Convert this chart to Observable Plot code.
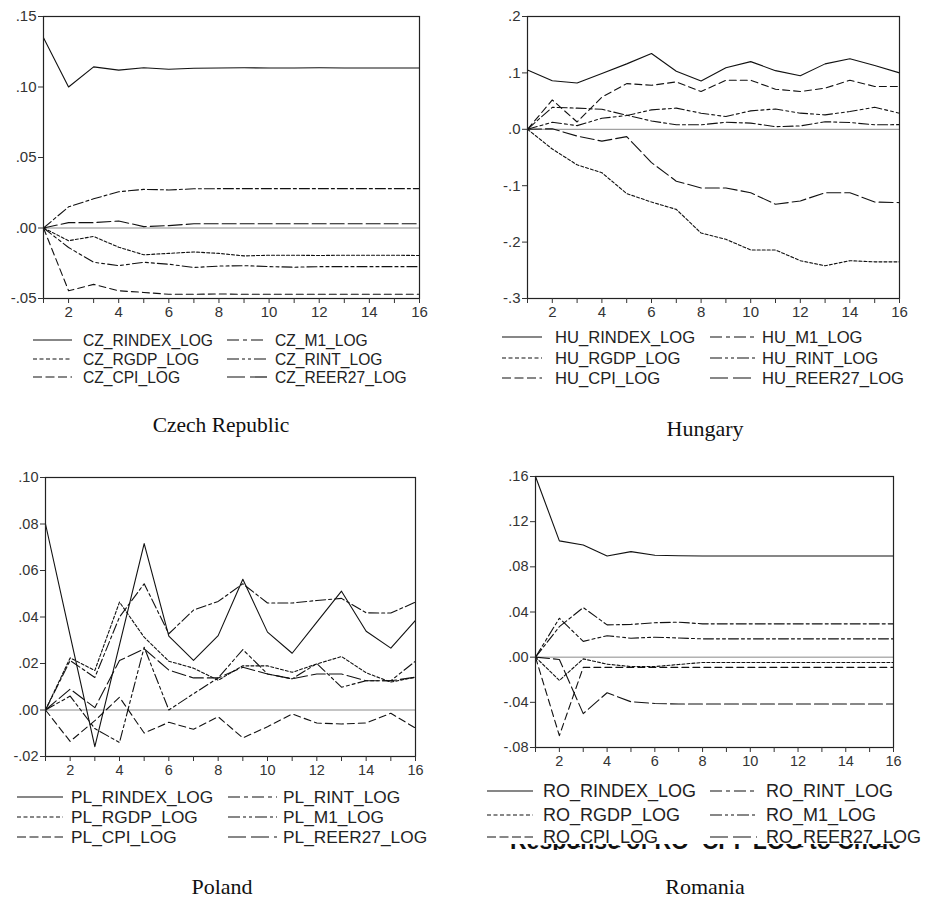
<!DOCTYPE html>
<html><head><meta charset="utf-8">
<script src="https://cdn.jsdelivr.net/npm/d3@7"></script>
<script src="https://cdn.jsdelivr.net/npm/@observablehq/plot@0.6"></script>
<style>
body{margin:0;background:#fff}
#root{position:relative;width:925px;height:898px;overflow:hidden;background:#fff}
.panel{position:absolute}
#overlay{position:absolute;left:0;top:0}
</style>
</head><body><div id="root"></div>
<script>
// ---------- data ----------
const periods = [1,2,3,4,5,6,7,8,9,10,11,12,13,14,15,16];
const xLabels = [2,4,6,8,10,12,14,16];

const czYTicks = [-0.05, 0, 0.05, 0.10, 0.15];
const huYTicks = [-0.3, -0.2, -0.1, 0, 0.1, 0.2];
const plYTicks = [-0.02, 0, 0.02, 0.04, 0.06, 0.08, 0.10];
const roYTicks = [-0.08, -0.04, 0, 0.04, 0.08, 0.12, 0.16];

const czNames = ["CZ_RINDEX_LOG","CZ_RGDP_LOG","CZ_CPI_LOG","CZ_M1_LOG","CZ_RINT_LOG","CZ_REER27_LOG"];
const huNames = ["HU_RINDEX_LOG","HU_RGDP_LOG","HU_CPI_LOG","HU_M1_LOG","HU_RINT_LOG","HU_REER27_LOG"];
const plNames = ["PL_RINDEX_LOG","PL_RGDP_LOG","PL_CPI_LOG","PL_RINT_LOG","PL_M1_LOG","PL_REER27_LOG"];
const roNames = ["RO_RINDEX_LOG","RO_RGDP_LOG","RO_CPI_LOG","RO_RINT_LOG","RO_M1_LOG","RO_REER27_LOG"];
const countries = ["Czech Republic","Hungary","Poland","Romania"];

// Czech Republic
const czRindex = [0.135,0.100,0.1143,0.112,0.1136,0.1126,0.1133,0.1135,0.1136,0.1135,0.1135,0.1136,0.1135,0.1135,0.1135,0.1135];
const czRgdp   = [0,-0.009,-0.006,-0.0136,-0.019,-0.018,-0.017,-0.018,-0.0198,-0.0193,-0.0193,-0.0195,-0.0193,-0.0193,-0.0193,-0.0195];
const czCpi    = [0,-0.0445,-0.040,-0.0445,-0.0457,-0.047,-0.047,-0.0468,-0.047,-0.047,-0.047,-0.047,-0.047,-0.047,-0.047,-0.047];
const czM1     = [0,0.015,0.0207,0.0257,0.0274,0.027,0.0278,0.0279,0.0279,0.0279,0.0279,0.0279,0.0279,0.0279,0.0279,0.0279];
const czRint   = [0,-0.0138,-0.0243,-0.0267,-0.0243,-0.0257,-0.028,-0.027,-0.0267,-0.0274,-0.0278,-0.0274,-0.0274,-0.0274,-0.0274,-0.0274];
const czReer   = [0,0.0038,0.0038,0.005,0.001,0.0017,0.003,0.003,0.003,0.003,0.003,0.003,0.003,0.003,0.003,0.003];

// Hungary
const huRindex = [0.105,0.086,0.082,0.099,0.116,0.1345,0.103,0.0857,0.109,0.12,0.104,0.095,0.116,0.125,0.113,0.100];
const huRgdp   = [0,-0.035,-0.063,-0.077,-0.114,-0.129,-0.142,-0.184,-0.195,-0.214,-0.214,-0.233,-0.242,-0.233,-0.235,-0.235];
const huCpi    = [0,0.052,0.013,0.057,0.081,0.078,0.084,0.067,0.087,0.087,0.071,0.067,0.073,0.087,0.076,0.076];
const huM1     = [0,0.039,0.0375,0.0355,0.025,0.0147,0.008,0.008,0.0124,0.011,0.0047,0.006,0.0135,0.012,0.008,0.0083];
const huRint   = [0,0.0125,0.0065,0.0196,0.0244,0.0345,0.0375,0.0286,0.0226,0.0327,0.036,0.0286,0.0256,0.0315,0.039,0.0286];
const huReer   = [0,0.001,-0.012,-0.021,-0.013,-0.059,-0.092,-0.104,-0.104,-0.1125,-0.133,-0.127,-0.1125,-0.1125,-0.129,-0.13];

// Poland
const plRindex = [0.080,0.032,-0.0158,0.028,0.0716,0.0318,0.0213,0.032,0.0562,0.0335,0.0244,0.0378,0.0511,0.0339,0.0266,0.0385];
const plRgdp   = [0,0.0224,0.017,0.0464,0.0313,0.021,0.018,0.0128,0.019,0.019,0.0162,0.0198,0.023,0.016,0.012,0.0141];
const plCpi    = [0,-0.0135,-0.0046,0.0055,-0.0099,-0.0053,-0.0083,-0.0029,-0.012,-0.0072,-0.0017,-0.0056,-0.006,-0.0056,-0.0014,-0.0078];
const plRint   = [0,0.0213,0.014,0.040,0.0543,0.0328,0.043,0.0467,0.0543,0.046,0.046,0.0471,0.048,0.0418,0.0417,0.0464];
const plM1     = [0,0.006,-0.008,-0.014,0.027,0,0.007,0.0138,0.026,0.0155,0.0134,0.020,0.0098,0.0126,0.0126,0.021];
const plReer   = [0,0.009,0.001,0.0213,0.0263,0.0172,0.0138,0.0138,0.0184,0.0155,0.0134,0.0155,0.0155,0.0126,0.0126,0.0141];

// Romania
const roRindex = [0.160,0.103,0.0994,0.0896,0.0935,0.0902,0.0898,0.0896,0.0896,0.0896,0.0896,0.0896,0.0896,0.0896,0.0896,0.0896];
const roRgdp   = [0,-0.0206,-0.0015,-0.0062,-0.0083,-0.0083,-0.0065,-0.0047,-0.0047,-0.0047,-0.0047,-0.0047,-0.0047,-0.0047,-0.0047,-0.0047];
const roCpi    = [0,-0.0695,-0.009,-0.009,-0.009,-0.009,-0.009,-0.009,-0.009,-0.009,-0.009,-0.009,-0.009,-0.009,-0.009,-0.009];
const roRint   = [0,0.027,0.0439,0.0286,0.029,0.0305,0.031,0.0295,0.0295,0.0295,0.0295,0.0295,0.0295,0.0295,0.0295,0.0295];
const roM1     = [0,0.0345,0.014,0.019,0.0168,0.0177,0.017,0.0162,0.0162,0.0162,0.0162,0.0162,0.0162,0.0162,0.0162,0.0162];
const roReer   = [0,-0.002,-0.050,-0.0315,-0.0395,-0.041,-0.0415,-0.0415,-0.0415,-0.0415,-0.0415,-0.0415,-0.0415,-0.0415,-0.0415,-0.0415];

// ---------- styles ----------
const dashStyles = [null, "3,2", "7,4", "10,3,3,3", "10,3,3,3,3,3", "14,4"];
const legendDash = [null, "4,2.5", "9,3.5", "12,4,4,4", "12,3,3,3,3,3", "18,5"];

const panels = [
  {names: czNames, series: [czRindex, czRgdp, czCpi, czM1, czRint, czReer], yTicks: czYTicks, dec: 2,
   box: {left: 0, top: 0, width: 460, height: 330, ml: 43, mr: 41, mt: 16, mb: 32}, tickFs: 15,
   leg: {ys: [340, 359, 377], c1: [33, 72, 83], c2: [227, 267, 275], fs: 15.6},
   title: {x: 221, y: 432, fs: 21.5}},
  {names: huNames, series: [huRindex, huRgdp, huCpi, huM1, huRint, huReer], yTicks: huYTicks, dec: 1,
   box: {left: 460, top: 0, width: 465, height: 330, ml: 67, mr: 26, mt: 16, mb: 32}, tickFs: 15,
   leg: {ys: [337, 358, 378], c1: [502, 542, 555], c2: [710, 755, 762], fs: 16.6},
   title: {x: 705, y: 436, fs: 22}},
  {names: plNames, series: [plRindex, plRgdp, plCpi, plRint, plM1, plReer], yTicks: plYTicks, dec: 2,
   box: {left: 0, top: 460, width: 460, height: 330, ml: 45, mr: 45, mt: 17, mb: 34}, tickFs: 14.5,
   leg: {ys: [797, 817, 837], c1: [17, 63, 71], c2: [228, 277, 283], fs: 17.3},
   title: {x: 222, y: 894, fs: 22}},
  {names: roNames, series: [roRindex, roRgdp, roCpi, roRint, roM1, roReer], yTicks: roYTicks, dec: 2,
   box: {left: 460, top: 460, width: 465, height: 330, ml: 75, mr: 32, mt: 16, mb: 43}, tickFs: 14.5,
   leg: {ys: [791, 815, 837], c1: [487, 533, 543], c2: [710, 757, 766], fs: 18},
   title: {x: 705, y: 894, fs: 22}}
];

const root = document.getElementById("root");

function fmt(dec) {
  return d => {
    const s = Math.abs(d).toFixed(dec).replace(/^0/, "");
    return (d < -1e-12 ? "-" : "") + s;
  };
}

panels.forEach(p => {
  const b = p.box;
  const marks = [Plot.ruleY([0], {stroke: "#8a8a8a", strokeWidth: 1})];
  p.series.forEach((vals, i) => {
    const rows = periods.map((t, j) => ({t, v: vals[j]}));
    const opts = {x: "t", y: "v", stroke: "#111", strokeWidth: 1.1};
    if (dashStyles[i]) opts.strokeDasharray = dashStyles[i];
    marks.push(Plot.line(rows, opts));
  });
  marks.push(Plot.frame({stroke: "#222", strokeWidth: 1.2}));
  marks.push(Plot.axisY({ticks: p.yTicks, tickFormat: fmt(p.dec), label: null, tickSize: 5, tickPadding: 2,
    fontSize: p.tickFs, fill: "#333", stroke: "#333"}));
  marks.push(Plot.axisX({ticks: periods, label: null, tickSize: 5, tickPadding: 3, fontSize: p.tickFs, fill: "#333", stroke: "#333",
    tickFormat: d => xLabels.includes(d) ? String(d) : ""}));
  const chart = Plot.plot({
    width: b.width, height: b.height,
    marginLeft: b.ml, marginRight: b.mr, marginTop: b.mt, marginBottom: b.mb,
    x: {domain: [1, 16], label: null},
    y: {domain: [p.yTicks[0], p.yTicks[p.yTicks.length - 1]], label: null},
    style: {fontFamily: "'Liberation Sans', Arial, sans-serif", fontSize: p.tickFs + "px", background: "transparent", color: "#333"},
    marks
  });
  const div = document.createElement("div");
  div.className = "panel";
  div.style.left = b.left + "px";
  div.style.top = b.top + "px";
  div.appendChild(chart);
  root.appendChild(div);
});

// ---------- overlay: legends & titles ----------
const svg = d3.select(root).append("svg").attr("id", "overlay")
  .attr("width", 925).attr("height", 898);

panels.forEach((p, k) => {
  const L = p.leg;
  p.names.forEach((name, i) => {
    const col = i < 3 ? L.c1 : L.c2;
    const y = L.ys[i % 3];
    const ln = svg.append("line").attr("x1", col[0]).attr("x2", col[1]).attr("y1", y).attr("y2", y)
      .attr("stroke", "#111").attr("stroke-width", 1.2);
    if (legendDash[i]) ln.attr("stroke-dasharray", legendDash[i]);
    svg.append("text").attr("x", col[2]).attr("y", y).attr("dy", "0.36em")
      .attr("font-family", "'Liberation Sans', Arial, sans-serif").attr("font-size", L.fs)
      .attr("fill", "#222").text(name);
  });
  svg.append("text").attr("x", p.title.x).attr("y", p.title.y).attr("text-anchor", "middle")
    .attr("font-family", "'Liberation Serif', 'Times New Roman', serif").attr("font-size", p.title.fs)
    .attr("fill", "#111").text(countries[k]);
});

// partially hidden caption fragment under the Romania legend
svg.append("clipPath").attr("id", "clipArt").append("rect")
  .attr("x", 500).attr("y", 844).attr("width", 400).attr("height", 6);
svg.append("text").attr("x", 510).attr("y", 849).attr("clip-path", "url(#clipArt)")
  .attr("font-family", "'Liberation Sans', Arial, sans-serif").attr("font-weight", "bold")
  .attr("font-size", 23).attr("fill", "#111").text("Response of RO_CPI_LOG to Cholesky");
</script>
</body></html>
